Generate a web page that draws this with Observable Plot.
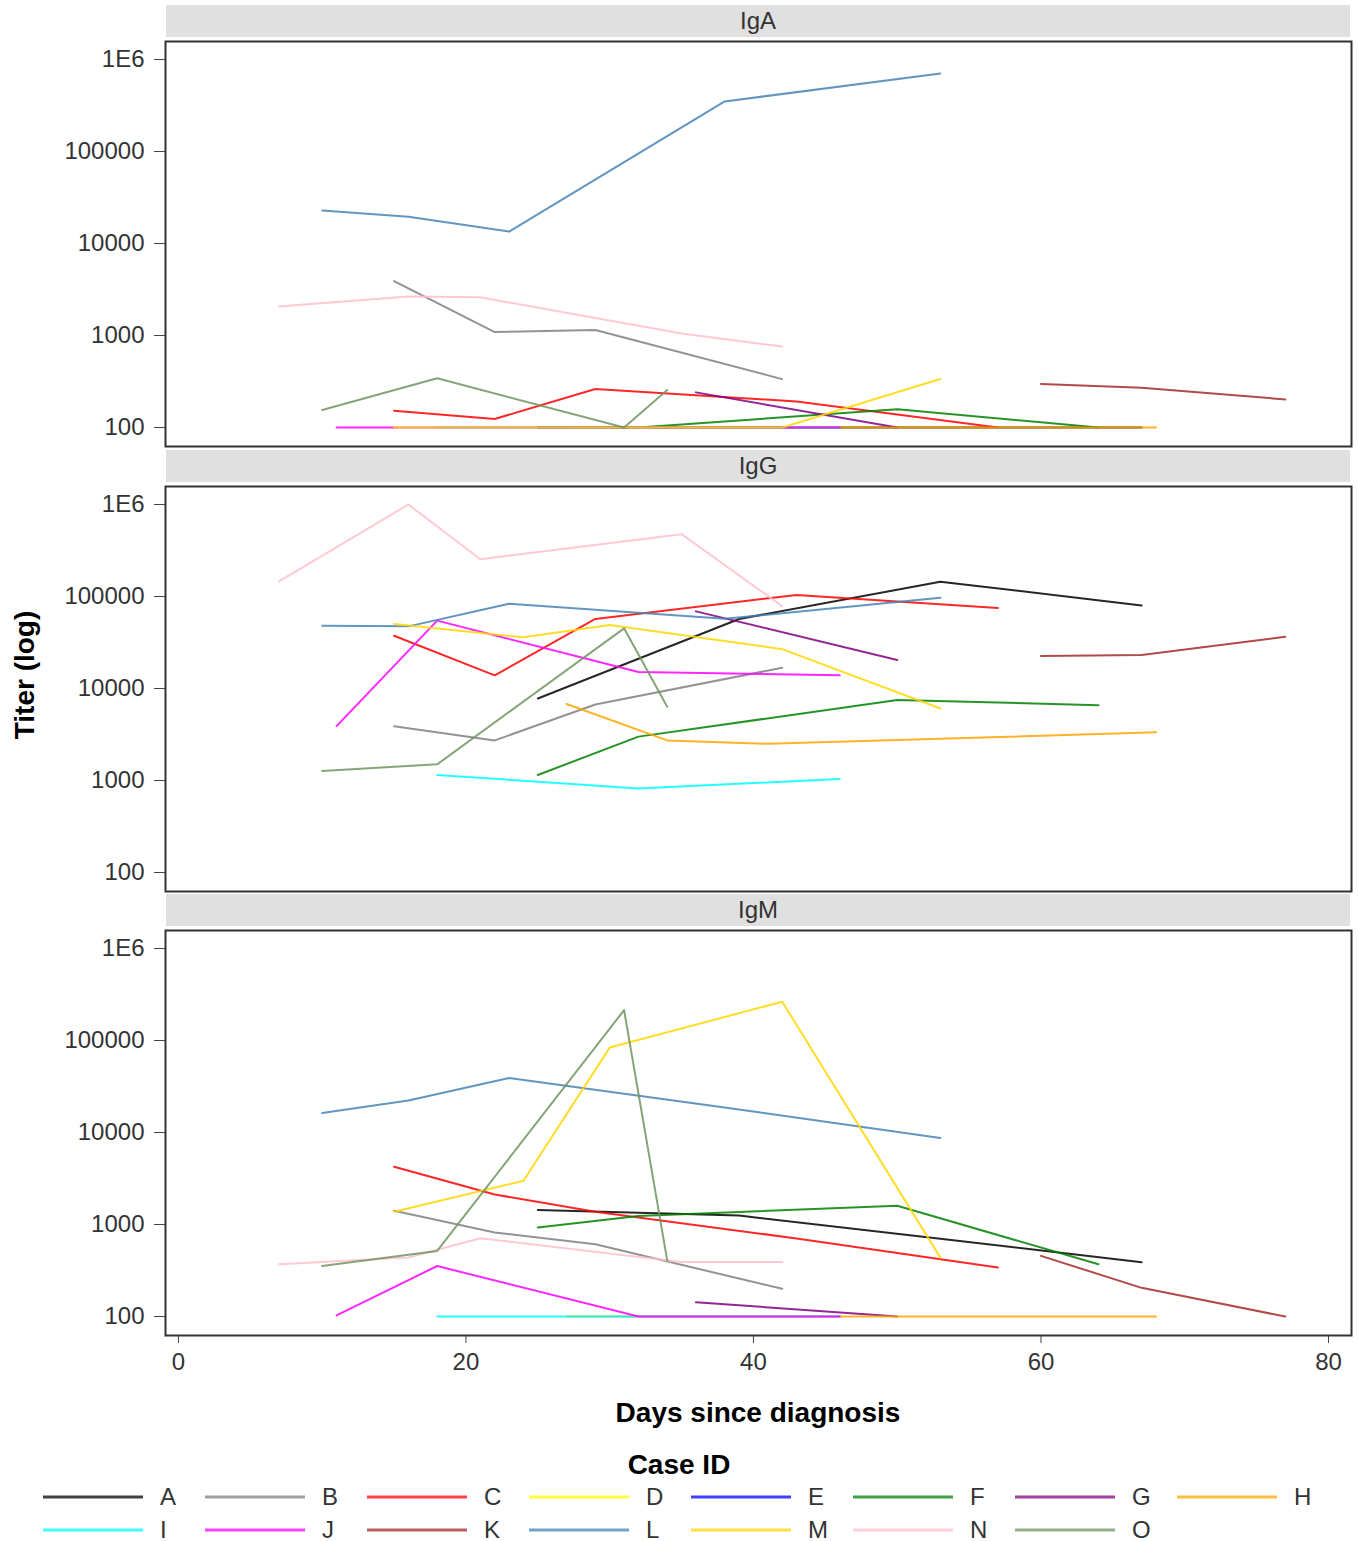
<!DOCTYPE html>
<html>
<head>
<meta charset="utf-8">
<script src="https://cdn.jsdelivr.net/npm/d3@7"></script>
<script src="https://cdn.jsdelivr.net/npm/@observablehq/plot@0.6"></script>
<style>
  body { margin: 0; background: #fff; font-family: "Liberation Sans", Arial, sans-serif; }
  #chart { position: relative; width: 1358px; height: 1541px; }
  .panel { position: absolute; left: 0; }
  .strip { position: absolute; left: 166px; width: 1184px; height: 32px; background: #e0e0e0;
           color: #333; font-size: 24px; line-height: 32px; text-align: center; }
  .ylabel { position: absolute; left: 25px; top: 675px; transform: translate(-50%, -50%) rotate(-90deg);
            font-weight: bold; font-size: 28px; color: #000; white-space: nowrap; }
  .xlabel { position: absolute; left: 165px; width: 1186px; top: 1396px; line-height: 34px; text-align: center;
            font-weight: bold; font-size: 28px; color: #000; }
  .legtitle { position: absolute; left: 0; width: 1358px; top: 1448px; line-height: 34px; text-align: center;
              font-weight: bold; font-size: 28px; color: #000; }
  .legitem { position: absolute; height: 24px; display: flex; align-items: center; }
  .legitem svg { display: block; }
  .legitem span { margin-left: 17px; font-size: 24px; line-height: 24px; color: #333; }
</style>
</head>
<body>
<div id="chart"></div>
<script>
// ---------- data ----------
const caseIds = ["A","B","C","D","E","F","G","H","I","J","K","L","M","N","O"];
const caseColors = ["#000000","#808080","#ff0000","#ffff00","#0000ff","#008000","#800080","#ffa500",
                    "#00ffff","#ff00ff","#a52a2a","#4682b4","#ffd700","#ffc0cb","#70945f"];
const isotypes = ["IgA","IgG","IgM"];
const xTicks = [0, 20, 40, 60, 80];
const yTicks = [100, 1000, 10000, 100000, 1000000];
const yTickLabels = ["100", "1000", "10000", "100000", "1E6"];

const A = {days: [25, 39, 53, 67],
  IgA: [100, 100, 100, 100], IgG: [7800, 57000, 145000, 80000], IgM: [1440, 1250, 700, 390]};
const B = {days: [15, 22, 29, 42],
  IgA: [3900, 1090, 1150, 336], IgG: [3900, 2730, 6700, 16800], IgM: [1410, 820, 610, 200]};
const C = {days: [15, 22, 29, 43, 57],
  IgA: [152, 124, 262, 192, 100], IgG: [37500, 13900, 57000, 104000, 75000], IgM: [4250, 2120, 1380, 705, 341]};
const D = {days: [], IgA: [], IgG: [], IgM: []};
const E = {days: [], IgA: [], IgG: [], IgM: []};
const F = {days: [25, 32, 50, 64],
  IgA: [100, 100, 158, 100], IgG: [1150, 3000, 7500, 6600], IgM: [930, 1240, 1600, 370]};
const G = {days: [36, 50],
  IgA: [241, 100], IgG: [69000, 20400], IgM: [143, 100]};
const H = {days: [27, 34, 41, 68],
  IgA: [100, 100, 100, 100], IgG: [6800, 2730, 2510, 3340], IgM: [100, 100, 100, 100]};
const I = {days: [18, 32, 46],
  IgA: [100, 100, 100], IgG: [1150, 820, 1040], IgM: [100, 100, 100]};
const J = {days: [11, 18, 32, 46],
  IgA: [100, 100, 100, 100], IgG: [3900, 54700, 15100, 13900], IgM: [103, 354, 100, 100]};
const K = {days: [60, 67, 77],
  IgA: [297, 271, 202], IgG: [22600, 23100, 36600], IgM: [456, 205, 100]};
const L = {days: [10, 16, 23, 38, 53],
  IgA: [22900, 19600, 13500, 350000, 705000], IgG: [48200, 47400, 83400, 57300, 96800], IgM: [16300, 22300, 39100, 18700, 8730]};
const M = {days: [15, 24, 30, 42, 53],
  IgA: [100, 100, 100, 100, 337], IgG: [50400, 36000, 49100, 26800, 6070], IgM: [1380, 2990, 83800, 264000, 437]};
const N = {days: [7, 16, 21, 35, 42],
  IgA: [2070, 2660, 2600, 1050, 760], IgG: [146000, 1000000, 254000, 476000, 78500], IgM: [369, 438, 709, 391, 391]};
const O = {days: [10, 18, 31, 34],
  IgA: [155, 343, 100, 256], IgG: [1270, 1500, 45100, 6340], IgM: [354, 516, 214000, 408]};

const caseData = {A, B, C, D, E, F, G, H, I, J, K, L, M, N, O};

// long table built from the arrays above
const rows = [];
for (const id of caseIds) {
  const c = caseData[id];
  for (const iso of isotypes) {
    c.days.forEach((d, i) => rows.push({id, iso, day: d, titer: c[iso][i]}));
  }
}

// ---------- layout ----------
const chart = document.getElementById("chart");
const frameTops = {IgA: 41, IgG: 486, IgM: 930};
const panelH = 405;

isotypes.forEach((iso, k) => {
  const last = k === isotypes.length - 1;
  const mt = 4, mb = last ? 50 : 4;
  const marks = [
    Plot.axisY({ticks: yTicks, tickFormat: d => yTickLabels[yTicks.indexOf(d)], tickSize: 11, tickPadding: 10, label: null, fontSize: 24, stroke: "#444"}),
    Plot.line(rows.filter(r => r.iso === iso), {x: "day", y: "titer", z: "id", stroke: "id", strokeWidth: 2, strokeOpacity: 0.85}),
    Plot.frame({stroke: "#333", strokeWidth: 2})
  ];
  if (last) marks.unshift(Plot.axisX({ticks: xTicks, tickSize: 8, tickPadding: 9, label: null, fontSize: 24, stroke: "#444"}));
  const xOpts = {domain: [-0.9, 81.6], label: null};
  if (!last) xOpts.axis = null;
  const svg = Plot.plot({
    width: 1358,
    height: mt + panelH + mb,
    marginLeft: 165, marginRight: 7, marginTop: mt, marginBottom: mb,
    style: {background: "transparent", fontFamily: "'Liberation Sans', Arial, sans-serif", fontSize: "24px", color: "#333", overflow: "visible"},
    x: xOpts,
    y: {type: "log", domain: [62.2, 1.57e6], label: null},
    color: {domain: caseIds, range: caseColors},
    marks
  });
  const wrap = document.createElement("div");
  wrap.className = "panel";
  wrap.style.top = (frameTops[iso] - mt) + "px";
  wrap.appendChild(svg);
  chart.appendChild(wrap);
});

isotypes.forEach(iso => {
  const s = document.createElement("div");
  s.className = "strip";
  s.style.top = (frameTops[iso] - 36) + "px";
  s.textContent = iso;
  chart.appendChild(s);
});

const yl = document.createElement("div");
yl.className = "ylabel"; yl.textContent = "Titer (log)";
chart.appendChild(yl);

const xl = document.createElement("div");
xl.className = "xlabel"; xl.textContent = "Days since diagnosis";
chart.appendChild(xl);

const lt = document.createElement("div");
lt.className = "legtitle"; lt.textContent = "Case ID";
chart.appendChild(lt);

caseIds.forEach((id, i) => {
  const row = Math.floor(i / 8), col = i % 8;
  const item = document.createElement("div");
  item.className = "legitem";
  item.style.left = (43 + col * 162) + "px";
  item.style.top = (1485 + row * 33) + "px";
  item.innerHTML = `<svg width="100" height="24"><line x1="0" x2="100" y1="12" y2="12" stroke="${caseColors[i]}" stroke-width="3" stroke-opacity="0.75"/></svg><span>${id}</span>`;
  chart.appendChild(item);
});
</script>
</body>
</html>
